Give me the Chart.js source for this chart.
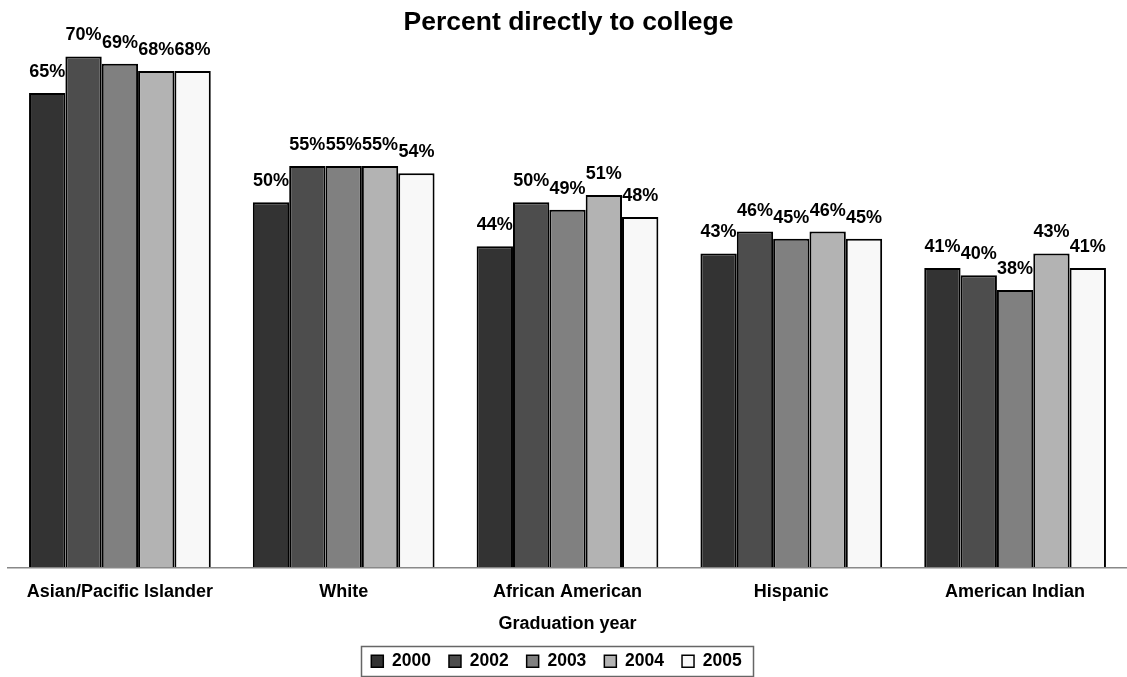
<!DOCTYPE html>
<html>
<head>
<meta charset="utf-8">
<script src="https://cdn.jsdelivr.net/npm/chart.js@4"></script>
<style>
  html, body { margin: 0; padding: 0; background: #fff; }
  #wrap { width: 1127px; height: 677px; }
</style>
</head>
<body>
<div id="wrap"><canvas id="c" width="1127" height="677"></canvas></div>
<script>
const categories = ["Asian/Pacific Islander", "White", "African American", "Hispanic", "American Indian"];
const years = ["2000", "2002", "2003", "2004", "2005"];
const s2000 = [65, 50, 44, 43, 41];
const s2002 = [70, 55, 50, 46, 40];
const s2003 = [69, 55, 49, 45, 38];
const s2004 = [68, 55, 51, 46, 43];
const s2005 = [68, 54, 48, 45, 41];
const seriesValues = [s2000, s2002, s2003, s2004, s2005];
const colors = ["#333333", "#4d4d4d", "#808080", "#b3b3b3", "#f8f8f8"];

const FONT = "'Liberation Sans', Arial, sans-serif";

const labelPlugin = {
  id: 'valueLabels',
  afterDatasetsDraw(chart) {
    const ctx = chart.ctx;
    ctx.save();
    ctx.font = "bold 18px " + FONT;
    ctx.fillStyle = "#000";
    ctx.textAlign = "center";
    ctx.textBaseline = "middle";
    chart.data.datasets.forEach((ds, i) => {
      const meta = chart.getDatasetMeta(i);
      meta.data.forEach((el, j) => {
        ctx.fillText(ds.data[j] + "%", el.x, el.y - 21);
      });
    });
    ctx.restore();
  }
};

const legendShiftPlugin = {
  id: 'legendShift',
  afterLayout(chart) {
    const lg = chart.legend;
    if (!lg) return;
    lg.left -= 12;
    lg.right -= 12;
  }
};

const legendBoxPlugin = {
  id: 'legendBox',
  afterDraw(chart) {
    const lg = chart.legend;
    if (!lg || !lg.legendHitBoxes || !lg.legendHitBoxes.length) return;
    const hb = lg.legendHitBoxes;
    let l = Infinity, r = -Infinity, t = Infinity, b = -Infinity;
    hb.forEach(h => {
      l = Math.min(l, h.left); r = Math.max(r, h.left + h.width);
      t = Math.min(t, h.top); b = Math.max(b, h.top + h.height);
    });
    const ctx = chart.ctx;
    ctx.save();
    ctx.strokeStyle = "#666";
    ctx.lineWidth = 1.5;
    const x0 = Math.round(l - 10), y0 = Math.round(t - 7);
    const x1 = Math.round(r + 11), y1 = Math.round(b + 6);
    ctx.strokeRect(x0 + 0.5, y0 + 0.5, x1 - x0, y1 - y0);
    ctx.restore();
  }
};

new Chart(document.getElementById('c'), {
  type: 'bar',
  data: {
    labels: categories,
    datasets: years.map((y, i) => ({
      label: y,
      data: seriesValues[i],
      backgroundColor: colors[i],
      borderColor: "#000",
      borderWidth: 2,
      categoryPercentage: 0.812,
      barPercentage: 1.0
    }))
  },
  options: {
    responsive: false,
    animation: false,
    devicePixelRatio: 1,
    layout: { padding: { left: 8, right: -2, top: 0, bottom: -3 } },
    plugins: {
      title: {
        display: true,
        text: "Percent directly to college",
        color: "#000",
        font: { family: FONT, size: 26.5, weight: 'bold' },
        padding: { top: 7, bottom: 3 }
      },
      legend: {
        display: true,
        position: 'bottom',
        labels: {
          color: "#000",
          font: { family: FONT, size: 17.5, weight: 'bold' },
          boxWidth: 12,
          boxHeight: 12,
          padding: 18,
          generateLabels(chart) {
            return chart.data.datasets.map((ds, i) => ({
              text: ds.label,
              fillStyle: ds.backgroundColor,
              strokeStyle: "#000",
              lineWidth: 1.5,
              datasetIndex: i,
              hidden: false
            }));
          }
        }
      },
      tooltip: { enabled: false }
    },
    scales: {
      x: {
        grid: { display: false, drawTicks: false },
        border: { display: true, color: "#888", width: 1.5 },
        ticks: {
          color: "#000",
          font: { family: FONT, size: 18, weight: 'bold' },
          padding: 14,
          maxRotation: 0
        },
        title: {
          display: true,
          text: "Graduation year",
          color: "#000",
          font: { family: FONT, size: 18, weight: 'bold' },
          padding: { top: -4, bottom: 0 }
        }
      },
      y: {
        display: false,
        min: 0,
        max: 72
      }
    }
  },
  plugins: [labelPlugin, legendShiftPlugin, legendBoxPlugin]
});
</script>
</body>
</html>
